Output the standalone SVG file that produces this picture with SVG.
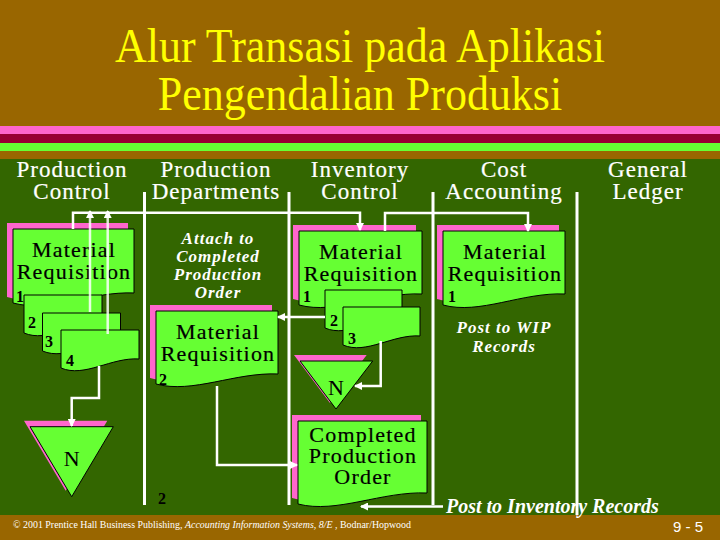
<svg xmlns="http://www.w3.org/2000/svg" width="720" height="540" viewBox="0 0 720 540">
<style>
.hdr{font-family:"Liberation Serif",serif;font-size:23px;fill:#fff;stroke:#fff;stroke-width:0.2;letter-spacing:1px;text-anchor:middle}
.doc{fill:#66FF33;stroke:#000;stroke-width:1}
.shadow{fill:#FF66CC}
.lbl{font-family:"Liberation Serif",serif;font-size:22px;fill:#000;stroke:#000;stroke-width:0.2;letter-spacing:1.2px;text-anchor:middle}
.num{font-family:"Liberation Serif",serif;font-size:16px;font-weight:bold;fill:#000}
.note{font-family:"Liberation Serif",serif;font-size:17px;font-weight:bold;font-style:italic;fill:#fff;letter-spacing:1px;text-anchor:middle}
.conn{fill:none;stroke:#fff;stroke-width:2.5}
.lane{stroke:#fff;stroke-width:3}
</style>
<defs>
<marker id="ah" markerUnits="userSpaceOnUse" markerWidth="8" markerHeight="8" refX="7" refY="4" orient="auto">
<path d="M0,0 L8,4 L0,8 Z" fill="#fff"/>
</marker>
</defs>
<!-- background -->
<rect x="0" y="0" width="720" height="540" fill="#336600"/>
<rect x="0" y="0" width="720" height="126" fill="#996600"/>
<rect x="0" y="126" width="720" height="8" fill="#FF66CC"/>
<rect x="0" y="134" width="720" height="9" fill="#990033"/>
<rect x="0" y="143" width="720" height="8" fill="#66FF33"/>
<rect x="0" y="151" width="720" height="8" fill="#996600"/>
<rect x="0" y="515" width="720" height="25" fill="#996600"/>
<!-- title -->
<g id="title" font-family="'Liberation Serif',serif" font-size="44" fill="#FFFF00" text-anchor="middle">
<text transform="translate(360,62) scale(1,1.12)">Alur Transasi pada Aplikasi</text>
<text transform="translate(360,110) scale(1,1.12)">Pengendalian Produksi</text>
</g>
<!-- lane headers -->
<g id="headers">
<text class="hdr" x="72" y="177">Production</text><text class="hdr" x="72" y="199">Control</text>
<text class="hdr" x="216" y="177">Production</text><text class="hdr" x="216" y="199">Departments</text>
<text class="hdr" x="360" y="177">Inventory</text><text class="hdr" x="360" y="199">Control</text>
<text class="hdr" x="504" y="177">Cost</text><text class="hdr" x="504" y="199">Accounting</text>
<text class="hdr" x="648" y="177">General</text><text class="hdr" x="648" y="199">Ledger</text>
</g>
<!-- lane dividers -->
<g id="lanes">
<line class="lane" x1="144.5" y1="192" x2="144.5" y2="505"/>
<line class="lane" x1="289" y1="192" x2="289" y2="505"/>
<line class="lane" x1="433" y1="192" x2="433" y2="505"/>
<line class="lane" x1="577" y1="192" x2="577" y2="515"/>
</g>
<!-- Production Control: Material Requisition 1-4 -->
<g id="pc-mr">
<path class="shadow" d="M7,223 H128 V287 C85.65,285 43.3,307 7,297 Z"/>
<path class="doc" d="M13,229 H134 V293 C91.65,291 49.3,313 13,303 Z"/>
<text class="lbl" x="74" y="257">Material</text>
<text class="lbl" x="74" y="279">Requisition</text>
<text class="num" x="16" y="302">1</text>
<path class="doc" d="M24,295 H102 V324 C74.7,322 47.4,343 24,333 Z"/>
<text class="num" x="28" y="328">2</text>
<path class="doc" d="M42.5,313 H120.5 V342 C93.2,340 65.9,361 42.5,351 Z"/>
<text class="num" x="45" y="347">3</text>
<path class="doc" d="M61,330 H139 V359 C111.7,357 84.4,378 61,368 Z"/>
<text class="num" x="66" y="366">4</text>
</g>
<g id="pc-n">
<path class="shadow" d="M24,420.7 L107.3,420.7 L65.7,490.7 Z"/>
<path class="doc" d="M30,426.7 L113.3,426.7 L71.7,496.7 Z"/>
<text x="71.7" y="466" font-family="'Liberation Serif',serif" font-size="22" text-anchor="middle" fill="#000">N</text>
</g>
<!-- Production Departments -->
<g id="pd-note">
<text class="note" x="218" y="244">Attach to</text>
<text class="note" x="218" y="262">Completed</text>
<text class="note" x="218" y="280">Production</text>
<text class="note" x="218" y="298">Order</text>
</g>
<g id="pd-mr">
<path class="shadow" d="M150,305 H272 V368 C229.3,366 186.6,388 150,378 Z"/>
<path class="doc" d="M156,311 H278 V374 C235.3,372 192.6,394 156,384 Z"/>
<text class="lbl" x="218" y="339">Material</text>
<text class="lbl" x="218" y="361">Requisition</text>
<text class="num" x="159" y="385">2</text>
</g>
<g id="pd-file2">
<text class="num" x="158" y="504">2</text>
</g>
<!-- Inventory Control -->
<g id="ic-mr">
<path class="shadow" d="M293,225 H416 V288 C372.95,286 329.9,309 293,299 Z"/>
<path class="doc" d="M299,231 H422 V294 C378.95,292 335.9,315 299,305 Z"/>
<text class="lbl" x="361" y="259">Material</text>
<text class="lbl" x="361" y="281">Requisition</text>
<text class="num" x="303" y="302">1</text>
<path class="doc" d="M325,290 H402 V319 C375,317 348.1,338 325,328 Z"/>
<text class="num" x="330" y="326">2</text>
<path class="doc" d="M343,307 H420 V336 C393,334 366.1,355 343,345 Z"/>
<text class="num" x="348" y="344">3</text>
</g>
<g id="ic-n">
<path class="shadow" d="M294,355 L366.7,355 L330,403 Z"/>
<path class="doc" d="M300,361 L372.7,361 L336,409 Z"/>
<text x="336" y="395" font-family="'Liberation Serif',serif" font-size="22" text-anchor="middle" fill="#000">N</text>
</g>
<g id="ic-cpo">
<path class="shadow" d="M292,415 H421 V487 C375.85,485 330.7,508 292,498 Z"/>
<path class="doc" d="M298,421 H427 V493 C381.85,491 336.7,514 298,504 Z"/>
<text class="lbl" x="363" y="442">Completed</text>
<text class="lbl" x="363" y="463">Production</text>
<text class="lbl" x="363" y="484">Order</text>
</g>
<!-- Cost Accounting -->
<g id="ca-mr">
<path class="shadow" d="M437,225 H559 V288 C516.3,286 473.6,309 437,299 Z"/>
<path class="doc" d="M443,231 H565 V294 C522.3,292 479.6,315 443,305 Z"/>
<text class="lbl" x="505" y="259">Material</text>
<text class="lbl" x="505" y="281">Requisition</text>
<text class="num" x="448" y="302">1</text>
</g>
<g id="ca-note">
<text class="note" x="504" y="333">Post to WIP</text>
<text class="note" x="504" y="352">Records</text>
</g>
<g id="inv-note">
<text x="446" y="513" font-family="'Liberation Serif',serif" font-size="20" font-weight="bold" font-style="italic" fill="#fff">Post to Inventory Records</text>
</g>
<!-- connectors -->
<g id="connectors">
<polyline class="conn" points="73,229 73,212.7 360,212.7 360,230" marker-end="url(#ah)"/>
<line class="conn" x1="90" y1="312" x2="90" y2="211" marker-end="url(#ah)" stroke-opacity="0.85"/>
<line class="conn" x1="107.7" y1="334" x2="107.7" y2="211" marker-end="url(#ah)" stroke-opacity="0.85"/>
<polyline class="conn" points="385,231 385,213 528,213 528,231" marker-end="url(#ah)"/>
<polyline class="conn" points="99,366 99,398 71.7,398 71.7,426" marker-end="url(#ah)"/>
<polyline class="conn" points="325,317 278,317" marker-end="url(#ah)"/>
<polyline class="conn" points="380.7,341 380.7,386 355,386" marker-end="url(#ah)"/>
<polyline class="conn" points="217,386 217,465 297,465" marker-end="url(#ah)"/>
<polyline class="conn" points="443,506.5 361,506.5" marker-end="url(#ah)"/>
</g>
<!-- footer -->
<g id="footer">
<text x="13" y="528" font-family="'Liberation Serif',serif" font-size="11" fill="#fff" textLength="398" lengthAdjust="spacingAndGlyphs">© 2001 Prentice Hall Business Publishing, <tspan font-style="italic">Accounting Information Systems, 8/E</tspan> , Bodnar/Hopwood</text>
<text x="673" y="532" font-family="'Liberation Sans',sans-serif" font-size="15" fill="#fff">9 - 5</text>
</g>
</svg>
